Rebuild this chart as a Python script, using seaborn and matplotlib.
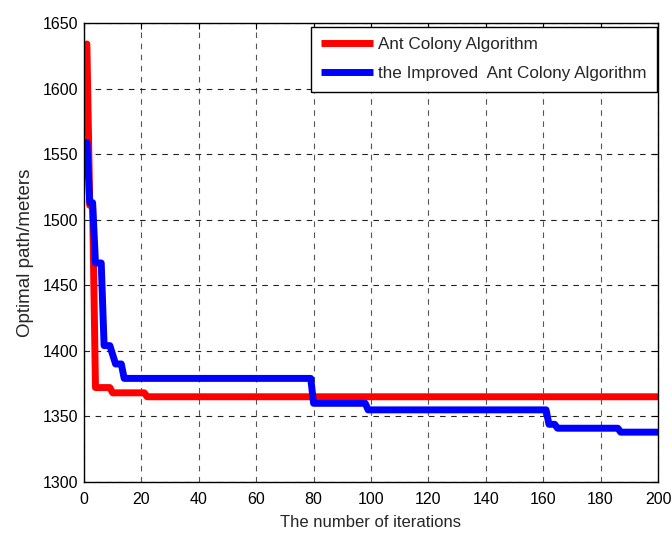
import numpy as np
import pandas as pd
import matplotlib
matplotlib.use("Agg")
import matplotlib.pyplot as plt
import seaborn as sns

# Data (vertices)
aca_iter = [1, 2, 3, 4, 9, 10, 21, 22, 200]
aca_vals = [1634, 1511, 1510, 1372, 1372, 1368, 1368, 1365, 1365]

iaca_iter = [1, 2, 3, 4, 6, 7, 9, 11, 13, 14, 79, 80, 98, 99, 161, 162, 164, 165, 186, 187, 200]
iaca_vals = [1559, 1513, 1513, 1467, 1467, 1404, 1404, 1390, 1390, 1379, 1379, 1360, 1360, 1355,
             1355, 1344, 1344, 1341, 1341, 1338, 1338]

series_names = ["Ant Colony Algorithm", "the Improved  Ant Colony Algorithm"]
x_ticks = [0, 20, 40, 60, 80, 100, 120, 140, 160, 180, 200]
y_ticks = [1300, 1350, 1400, 1450, 1500, 1550, 1600, 1650]

df = pd.concat([
    pd.DataFrame({"iter": aca_iter, "val": aca_vals, "series": series_names[0]}),
    pd.DataFrame({"iter": iaca_iter, "val": iaca_vals, "series": series_names[1]}),
], ignore_index=True)

sns.set_style("white")
plt.rcParams["font.family"] = ["Liberation Sans", "DejaVu Sans"]

fig = plt.figure(figsize=(6.72, 5.35), dpi=100)
ax = fig.add_axes([84 / 672, (535 - 482) / 535, 574 / 672, 459 / 535])

sns.lineplot(data=df, x="iter", y="val", hue="series", sort=False, estimator=None,
             palette=["#ff0000", "#0000ff"], linewidth=5, ax=ax)

ax.set_xlim(0, 200)
ax.set_ylim(1300, 1650)
ax.set_xticks(x_ticks)
ax.set_yticks(y_ticks)
ax.tick_params(direction="in", top=True, right=True, length=4, width=0.8,
               labelsize=11.5, colors="black")
ax.tick_params(axis="x", pad=7)
ax.tick_params(axis="y", pad=4)
ax.xaxis.grid(True, color="#555555", linestyle=(0, (5, 5)), linewidth=0.8)
ax.yaxis.grid(True, color="#222222", linestyle=(0, (5, 5)), linewidth=0.8)
for s in ax.spines.values():
    s.set_color("black")
    s.set_linewidth(1.0)
    s.set_visible(True)

ax.set_xlabel("The number of iterations", fontsize=12, labelpad=6)
ax.set_ylabel("Optimal path/meters", fontsize=13.5, labelpad=6)

leg = ax.legend(loc="upper right", bbox_to_anchor=(657 / 672, 1 - 26.7 / 535),
                bbox_transform=fig.transFigure, borderaxespad=0,
                fontsize=12.3, frameon=True, fancybox=False, edgecolor="black",
                framealpha=1, handlelength=3.05, handletextpad=0.3,
                labelspacing=0.85, borderpad=0.6)
leg.get_frame().set_linewidth(1.0)
for h in leg.get_lines():
    h.set_linewidth(5)
    h.set_solid_capstyle("butt")

fig.savefig("out.png", dpi=100)
